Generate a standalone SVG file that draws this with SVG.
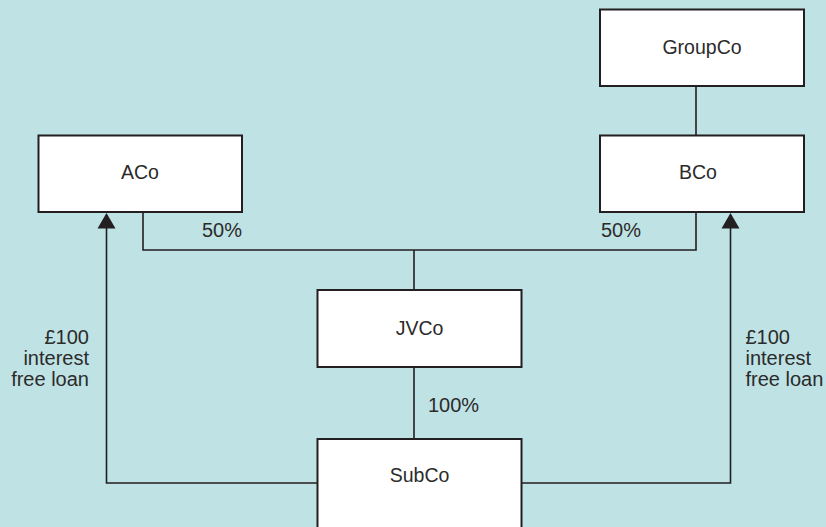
<svg xmlns="http://www.w3.org/2000/svg" width="826" height="527" viewBox="0 0 826 527">
  <style>
    .box { fill: #ffffff; stroke: #231f20; stroke-width: 2; }
    .wire { fill: none; stroke: #231f20; stroke-width: 1.6; }
    .head { fill: #231f20; }
    .lbl { font-family: "Liberation Sans", Arial, sans-serif; font-size: 19.5px; fill: #2b2b2b; }
    .note { font-family: "Liberation Sans", Arial, sans-serif; font-size: 20px; fill: #2b2b2b; }
  </style>

  <rect width="826" height="527" fill="#bfe2e4"/>

  <g id="connectors">
    <!-- GroupCo to BCo -->
    <line class="wire" x1="696" y1="86" x2="696" y2="136"/>
    <!-- 50% shareholdings joined above JVCo -->
    <polyline class="wire" points="143,212 143,250 696,250 696,212"/>
    <line class="wire" x1="414" y1="250" x2="414" y2="290"/>
    <!-- JVCo to SubCo -->
    <line class="wire" x1="414" y1="367" x2="414" y2="439"/>
    <!-- loans from SubCo up to ACo and BCo -->
    <polyline class="wire" points="317.5,483 106.5,483 106.5,228"/>
    <polygon class="head" points="106.5,213 97.5,228.5 115.5,228.5"/>
    <polyline class="wire" points="521.5,483 730.5,483 730.5,228"/>
    <polygon class="head" points="730.5,213 721.5,228.5 739.5,228.5"/>
    <text class="note" x="202" y="237">50%</text>
    <text class="note" x="601" y="237">50%</text>
    <text class="note" x="428" y="412">100%</text>
    <text class="note" text-anchor="end" x="89" y="344">£100</text>
    <text class="note" text-anchor="end" x="89" y="365">interest</text>
    <text class="note" text-anchor="end" x="89" y="386">free loan</text>
    <text class="note" x="745.5" y="344">£100</text>
    <text class="note" x="745.5" y="365">interest</text>
    <text class="note" x="745.5" y="386">free loan</text>
  </g>

  <g id="groupco">
    <rect class="box" x="600" y="9.5" width="204" height="76.5"/>
    <text class="lbl" x="702" y="53.5" text-anchor="middle">GroupCo</text>
  </g>
  <g id="aco">
    <rect class="box" x="38.5" y="135.5" width="203.5" height="76.5"/>
    <text class="lbl" x="140" y="179" text-anchor="middle">ACo</text>
  </g>
  <g id="bco">
    <rect class="box" x="600" y="135.5" width="204" height="76.5"/>
    <text class="lbl" x="698" y="179" text-anchor="middle">BCo</text>
  </g>
  <g id="jvco">
    <rect class="box" x="317.5" y="290" width="204" height="77"/>
    <text class="lbl" x="419.5" y="335" text-anchor="middle">JVCo</text>
  </g>
  <g id="subco">
    <rect class="box" x="317.5" y="439" width="204" height="100"/>
    <text class="lbl" x="419.5" y="482" text-anchor="middle">SubCo</text>
  </g>
</svg>
